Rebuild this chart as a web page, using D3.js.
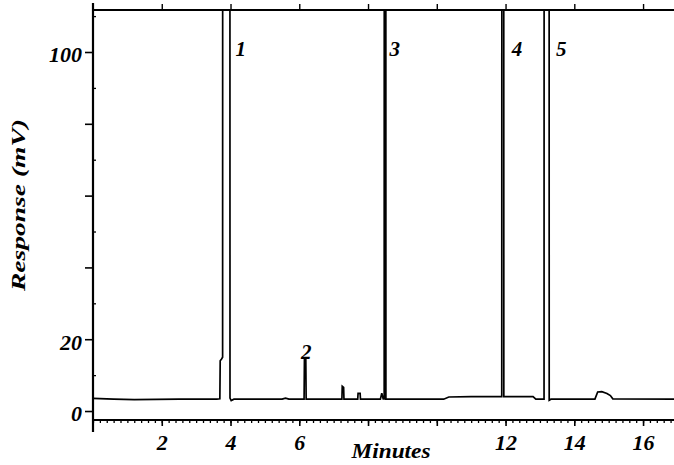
<!DOCTYPE html>
<html>
<head>
<meta charset="utf-8">
<script src="https://cdn.jsdelivr.net/npm/d3@7"></script>
<style>
html,body{margin:0;padding:0;background:#fff;}
svg{display:block;}
text{font-family:"Liberation Serif","DejaVu Serif",serif;font-weight:bold;font-style:italic;fill:#000;}
</style>
</head>
<body>
<svg id="chart" width="674" height="465"></svg>
<script>
// ---- data ----
const times = [0.00, 0.60, 1.20, 2.50, 3.60, 3.69, 3.70, 3.74, 3.77, 3.775, 3.98, 3.985, 4.02, 4.10,
  5.50, 5.60, 5.70, 6.14, 6.15, 6.19, 6.20, 7.24, 7.25, 7.29, 7.30, 7.70, 7.71, 7.77, 7.78,
  8.36, 8.40, 8.44, 8.47, 8.475, 8.515, 8.52, 8.60, 10.20, 10.35, 11.00, 11.89, 11.895, 11.945, 11.95,
  12.80, 12.88, 13.12, 13.125, 13.265, 13.27, 13.32, 14.00, 14.60, 14.68, 14.80, 14.95, 15.05, 15.12, 16.90];
const responses = [3.5, 3.3, 3.2, 3.3, 3.3, 3.4, 14.0, 14.5, 15.0, 300, 300, 3.6, 2.9, 3.3,
  3.3, 3.6, 3.3, 3.3, 14.5, 14.5, 3.3, 3.3, 6.9, 6.6, 3.3, 3.3, 4.9, 4.9, 3.3,
  3.3, 5.0, 3.4, 3.4, 300, 300, 3.3, 3.3, 3.3, 3.9, 4.0, 4.0, 300, 300, 4.0,
  4.0, 3.3, 3.3, 300, 300, 3.0, 3.3, 3.3, 3.3, 5.3, 5.4, 4.9, 4.3, 3.4, 3.3];

const xTicks = [2, 4, 6, 8, 10, 12, 14, 16];
const xTickLabels = ["2", "4", "6", "", "", "12", "14", "16"];
const yTicks = [0, 20, 40, 60, 80, 100];
const yTickLabels = ["0", "20", "", "", "", "100"];

const peakLabels = ["1", "2", "3", "4", "5"];
const peakLabelTimes = [4.30, 6.20, 8.78, 12.33, 13.62];
const peakLabelValues = [101, 16.6, 101, 101, 101];

const xTitle = "Minutes";
const yTitle = "Response (mV)";

// ---- layout ----
const svg = d3.select("#chart");
const mLeft = 93, mRight = 674, mTop = 10, mBottom = 420;

const x = d3.scaleLinear().domain([0, 16.9]).range([mLeft, mRight]);
const y = d3.scaleLinear().domain([-2.5, 111.7]).range([mBottom, mTop]);

svg.append("clipPath").attr("id", "plotclip")
  .append("rect").attr("x", mLeft).attr("y", mTop).attr("width", mRight - mLeft).attr("height", mBottom - mTop);

// signal trace
const pts = times.map((t, i) => [t, responses[i]]);
svg.append("path")
  .attr("clip-path", "url(#plotclip)")
  .attr("d", d3.line().x(d => x(d[0])).y(d => y(d[1]))(pts))
  .attr("fill", "none").attr("stroke", "#000").attr("stroke-width", 1.7);

// bottom axis
const minorX = d3.range(0, 16.81, 0.2);
const gx = svg.append("g").attr("transform", `translate(0,${mBottom})`)
  .call(d3.axisBottom(x).tickValues(minorX).tickSize(3).tickFormat(""));
gx.select(".domain").remove();
gx.selectAll("line").attr("stroke-width", 1.3);
const gx2 = svg.append("g").attr("transform", `translate(0,${mBottom})`)
  .call(d3.axisBottom(x).tickValues(xTicks).tickSize(6).tickPadding(4)
    .tickFormat((d, i) => xTickLabels[i]));
gx2.select(".domain").remove();
gx2.selectAll("line").attr("stroke-width", 1.6);
gx2.selectAll("text").attr("font-size", 22).attr("dy", "0.9em")
  .style("font-family", '"Liberation Serif",serif').style("font-weight", "bold").style("font-style", "italic");
svg.append("line").attr("x1", mLeft).attr("x2", mRight).attr("y1", mBottom).attr("y2", mBottom)
  .attr("stroke", "#000").attr("stroke-width", 2);

// top frame axis
const gt = svg.append("g").attr("transform", `translate(0,${mTop})`)
  .call(d3.axisTop(x).tickValues(xTicks).tickSize(6).tickFormat(""));
gt.select(".domain").remove();
gt.selectAll("line").attr("stroke-width", 1.4);
svg.append("line").attr("x1", mLeft).attr("x2", mRight).attr("y1", mTop).attr("y2", mTop)
  .attr("stroke", "#000").attr("stroke-width", 1.8);

// left axis
const gy = svg.append("g").attr("transform", `translate(${mLeft},0)`)
  .call(d3.axisLeft(y).tickValues(yTicks).tickSize(8).tickPadding(3)
    .tickFormat((d, i) => yTickLabels[i]));
gy.select(".domain").remove();
gy.selectAll("line").attr("stroke-width", 1.6);
gy.selectAll("text").attr("font-size", 22).attr("dy", "0.45em")
  .style("font-family", '"Liberation Serif",serif').style("font-weight", "bold").style("font-style", "italic");
const gy2 = svg.append("g").attr("transform", `translate(${mLeft},0)`)
  .call(d3.axisRight(y).tickValues(d3.range(10, 111, 20)).tickSize(3).tickFormat(""));
gy2.select(".domain").remove();
gy2.selectAll("line").attr("stroke-width", 1.3);
svg.append("line").attr("x1", mLeft).attr("x2", mLeft).attr("y1", 3).attr("y2", 432)
  .attr("stroke", "#000").attr("stroke-width", 2.2);

// peak labels
svg.append("g").selectAll("text").data(peakLabels).join("text")
  .attr("x", (d, i) => x(peakLabelTimes[i]))
  .attr("y", (d, i) => y(peakLabelValues[i]))
  .attr("text-anchor", "middle").attr("dy", "0.35em")
  .attr("font-size", 21).text(d => d);

// titles
svg.append("text").attr("x", 391).attr("y", 458).attr("text-anchor", "middle")
  .attr("font-size", 20).attr("textLength", 79).attr("lengthAdjust", "spacingAndGlyphs").text(xTitle);
svg.append("text").attr("transform", "translate(25,205) rotate(-90)").attr("text-anchor", "middle")
  .attr("font-size", 19).attr("textLength", 172).attr("lengthAdjust", "spacingAndGlyphs").text(yTitle);
</script>
</body>
</html>
